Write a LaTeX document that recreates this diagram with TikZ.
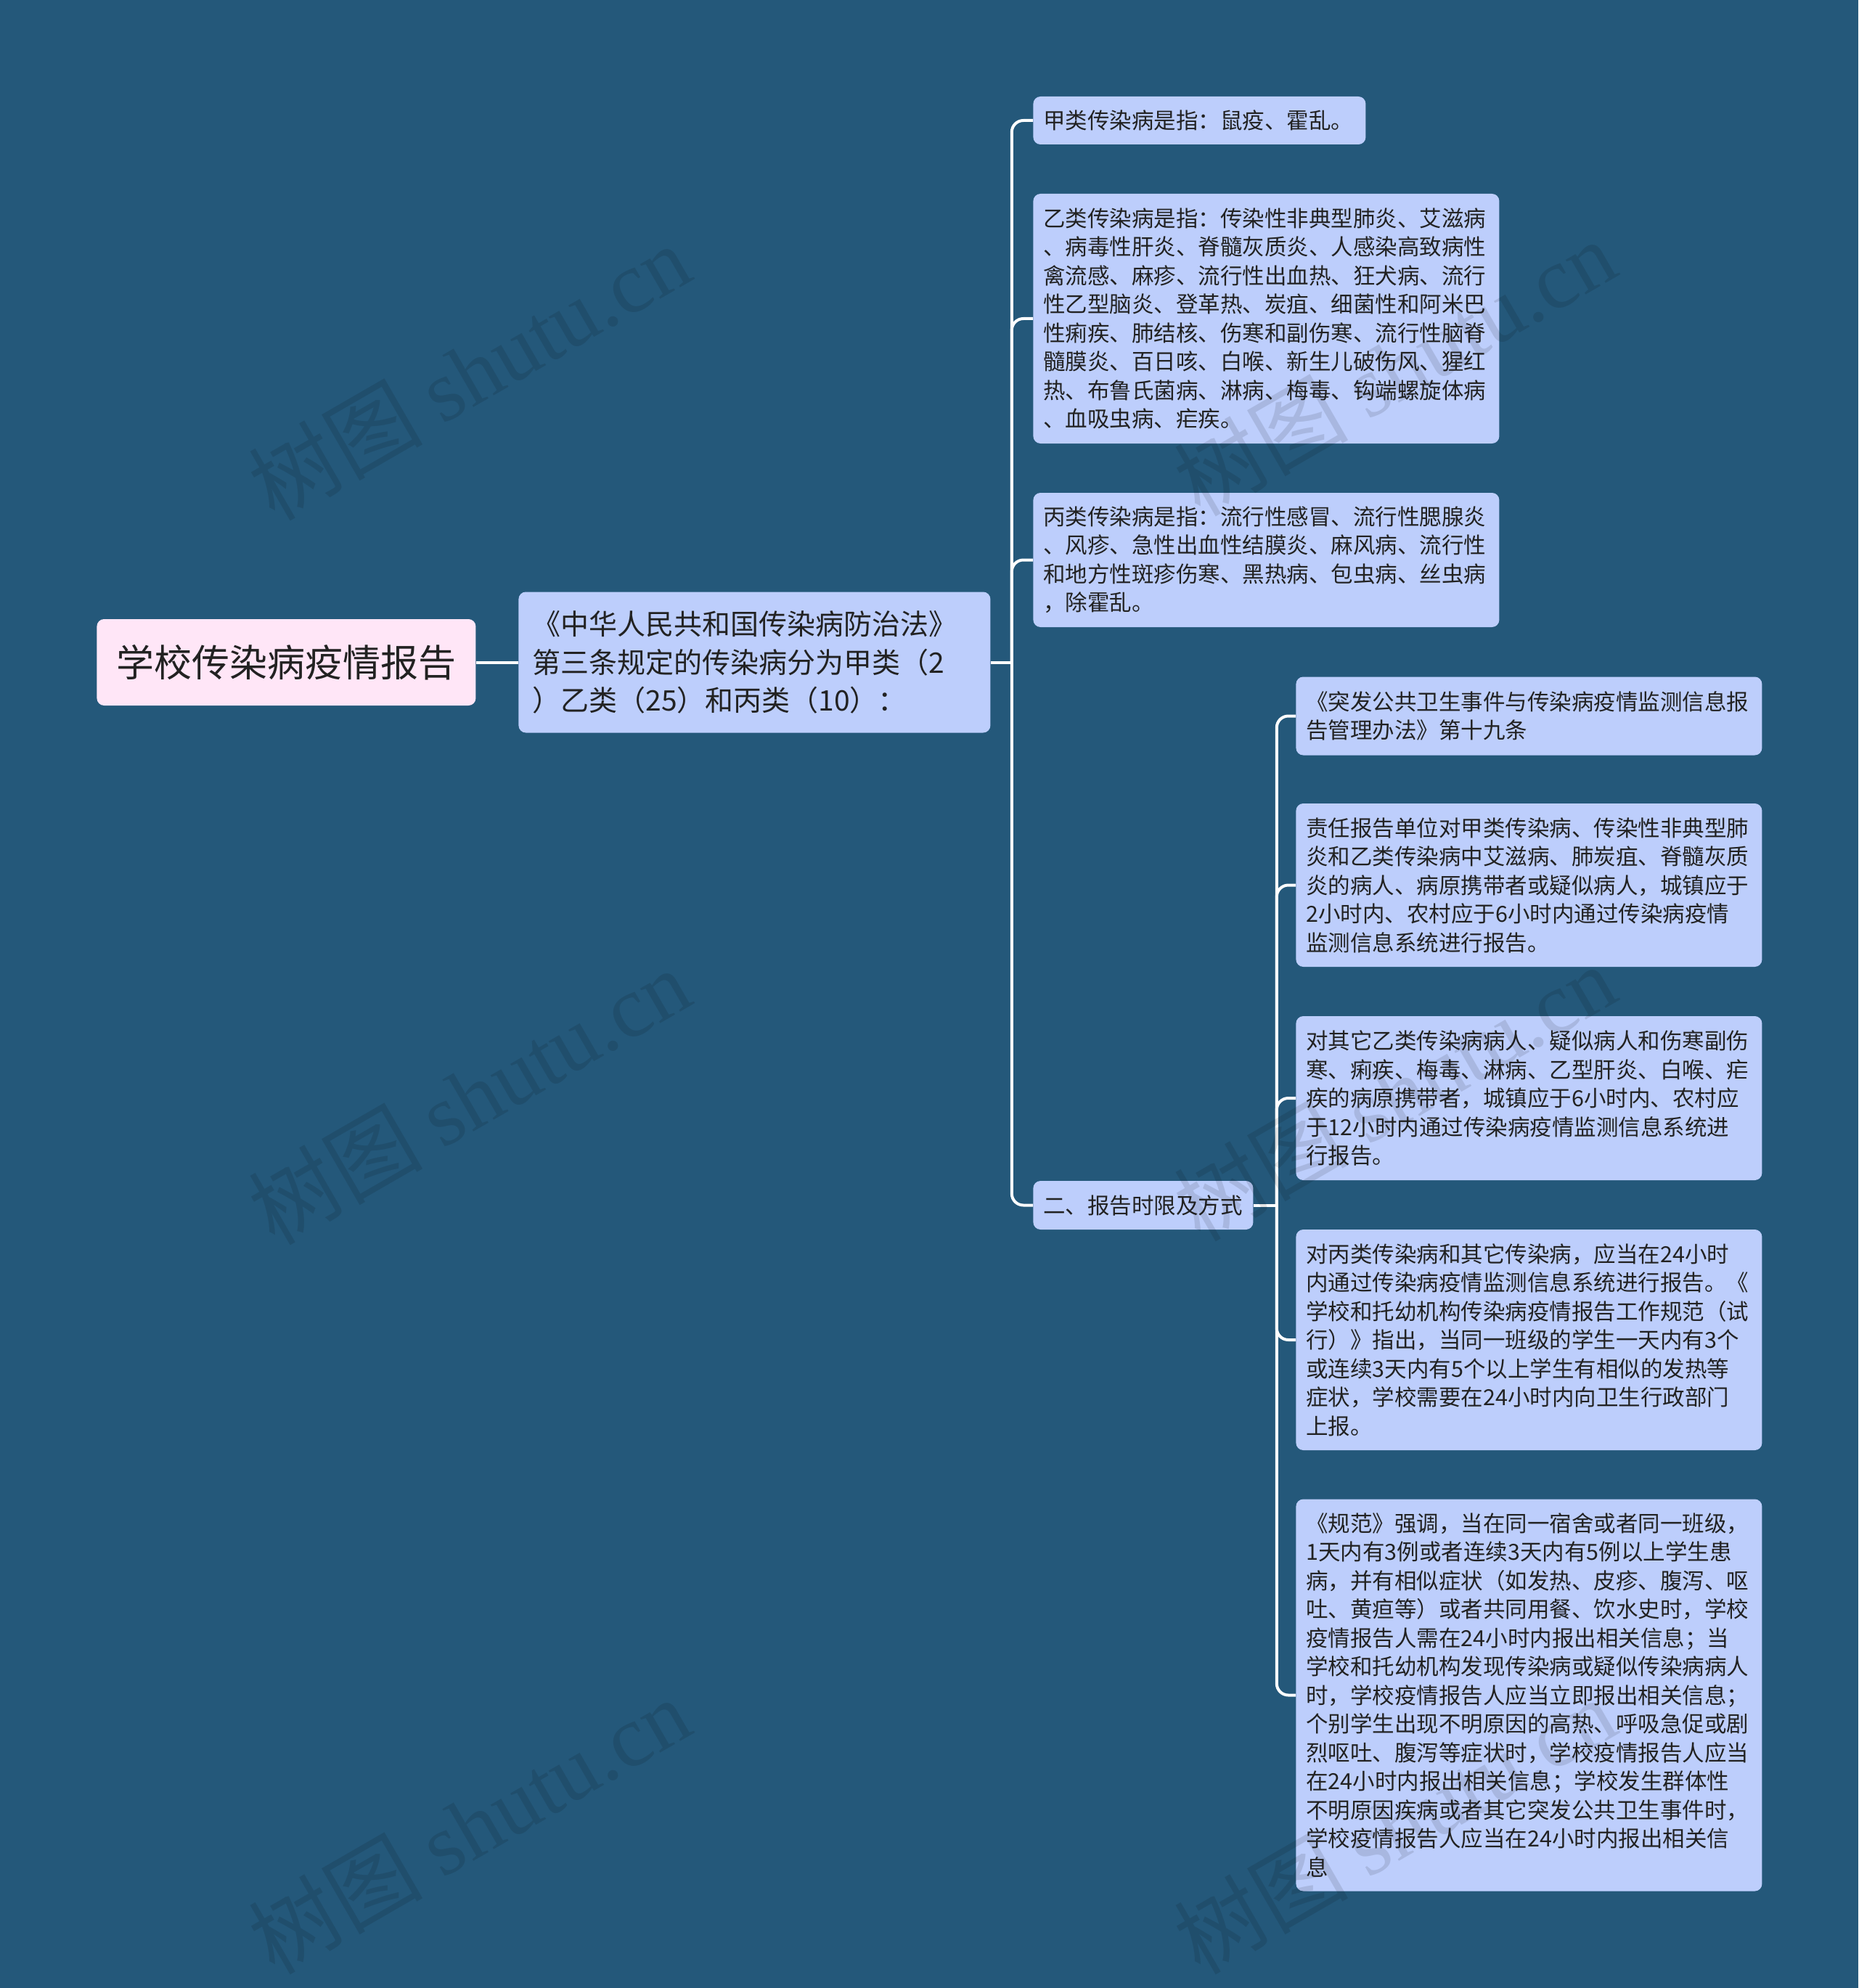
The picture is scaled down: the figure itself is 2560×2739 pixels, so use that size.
\documentclass[tikz,border=0pt]{standalone}
\usepackage{fontspec}
\setmainfont{Noto Sans CJK SC}
\newfontfamily\wmlatin{Liberation Serif}
\definecolor{bgc}{RGB}{36,88,122}
\definecolor{nodec}{RGB}{189,206,252}
\definecolor{rootc}{RGB}{255,230,247}
\definecolor{txtc}{RGB}{34,34,34}
\tikzset{
  basebox/.style={rounded corners=5pt, text=txtc, inner ysep=0pt, anchor=west},
  rootbox/.style={basebox, fill=rootc, align=center, inner xsep=0pt,
    font=\fontsize{26pt}{30pt}\selectfont},
  lonebox/.style={basebox, fill=nodec, align=left, inner xsep=9.5pt,
    font=\fontsize{19.5pt}{26.2pt}\selectfont},
  leafbox/.style={basebox, fill=nodec, align=left, inner xsep=7pt,
    font=\fontsize{15.25pt}{19.75pt}\selectfont},
  conn/.style={draw=white, line width=2pt, rounded corners=8pt},
  wm/.style={rotate=30, text=black, text opacity=0.11,
    font=\fontsize{60pt}{60pt}\selectfont},
}
\begin{document}
\begin{tikzpicture}[x=0.5pt,y=-0.5pt]
\fill[bgc] (0,0) rectangle (2560,2739);
\useasboundingbox (0,0) rectangle (2560,2739);

% root and first level
\node[rootbox, minimum width=261pt, minimum height=59.5pt] (root) at (133,912.5) {学校传染病疫情报告};
\node[lonebox, text width=306pt, minimum height=97pt] (law) at (714,912.5)
  {《中华人民共和国传染病防治法》\\第三条规定的传染病分为甲类（2\\）乙类（25）和丙类（10）：};

% second level
\node[leafbox, text width=215pt, minimum height=33pt] (jia) at (1423,166)
  {甲类传染病是指：鼠疫、霍乱。};
\node[leafbox, text width=307pt, minimum height=172pt] (yi) at (1423,439)
  {乙类传染病是指：传染性非典型肺炎、艾滋病\\、病毒性肝炎、脊髓灰质炎、人感染高致病性\\禽流感、麻疹、流行性出血热、狂犬病、流行\\性乙型脑炎、登革热、炭疽、细菌性和阿米巴\\性痢疾、肺结核、伤寒和副伤寒、流行性脑脊\\髓膜炎、百日咳、白喉、新生儿破伤风、猩红\\热、布鲁氏菌病、淋病、梅毒、钩端螺旋体病\\、血吸虫病、疟疾。};
\node[leafbox, text width=307pt, minimum height=92.5pt] (bing) at (1423,771.5)
  {丙类传染病是指：流行性感冒、流行性腮腺炎\\、风疹、急性出血性结膜炎、麻风病、流行性\\和地方性斑疹伤寒、黑热病、包虫病、丝虫病\\，除霍乱。};
\node[leafbox, text width=137.5pt, minimum height=33.5pt] (er) at (1423,1660.5)
  {二、报告时限及方式};

% third level
\node[leafbox, text width=307pt, minimum height=54pt] (tf) at (1785,986.5)
  {《突发公共卫生事件与传染病疫情监测信息报\\告管理办法》第十九条};
\node[leafbox, text width=307pt, minimum height=112.5pt] (zr) at (1785,1219.5)
  {责任报告单位对甲类传染病、传染性非典型肺\\炎和乙类传染病中艾滋病、肺炭疽、脊髓灰质\\炎的病人、病原携带者或疑似病人，城镇应于\\2小时内、农村应于6小时内通过传染病疫情\\监测信息系统进行报告。};
\node[leafbox, text width=307pt, minimum height=113pt] (qt) at (1785,1513)
  {对其它乙类传染病病人、疑似病人和伤寒副伤\\寒、痢疾、梅毒、淋病、乙型肝炎、白喉、疟\\疾的病原携带者，城镇应于6小时内、农村应\\于12小时内通过传染病疫情监测信息系统进\\行报告。};
\node[leafbox, text width=307pt, minimum height=152pt] (bl) at (1785,1846)
  {对丙类传染病和其它传染病，应当在24小时\\内通过传染病疫情监测信息系统进行报告。《\\学校和托幼机构传染病疫情报告工作规范（试\\行）》指出，当同一班级的学生一天内有3个\\或连续3天内有5个以上学生有相似的发热等\\症状，学校需要在24小时内向卫生行政部门\\上报。};
\node[leafbox, text width=307pt, minimum height=270pt] (gf) at (1785,2335.5)
  {《规范》强调，当在同一宿舍或者同一班级，\\1天内有3例或者连续3天内有5例以上学生患\\病，并有相似症状（如发热、皮疹、腹泻、呕\\吐、黄疸等）或者共同用餐、饮水史时，学校\\疫情报告人需在24小时内报出相关信息；当\\学校和托幼机构发现传染病或疑似传染病病人\\时，学校疫情报告人应当立即报出相关信息；\\个别学生出现不明原因的高热、呼吸急促或剧\\烈呕吐、腹泻等症状时，学校疫情报告人应当\\在24小时内报出相关信息；学校发生群体性\\不明原因疾病或者其它突发公共卫生事件时，\\学校疫情报告人应当在24小时内报出相关信\\息};

% connectors
\draw[conn] (root.east) -- (law.west);
\coordinate (j1) at ([xshift=14.5pt]law.east);
\coordinate (j2) at ([xshift=16pt]er.east);
\draw[conn] (law.east) -- (j1);
\draw[conn] (j1) |- (jia.west);
\draw[conn] (j1) |- (yi.west);
\draw[conn] (j1) |- (bing.west);
\draw[conn] (j1) |- (er.west);
\draw[conn] (er.east) -- (j2);
\draw[conn] (j2) |- (tf.west);
\draw[conn] (j2) |- (zr.west);
\draw[conn] (j2) |- (qt.west);
\draw[conn] (j2) |- (bl.west);
\draw[conn] (j2) |- (gf.west);

% watermarks
\node[wm] (w1) at (646,512) {树图 {\wmlatin shutu.cn}};
\node[wm] (w2) at (646,1510) {树图 {\wmlatin shutu.cn}};
\node[wm] (w3) at (646,2515) {树图 {\wmlatin shutu.cn}};
\node[wm] (w4) at (1921,506) {树图 {\wmlatin shutu.cn}};
\node[wm] (w5) at (1921,1505) {树图 {\wmlatin shutu.cn}};
\node[wm] (w6) at (1921,2515) {树图 {\wmlatin shutu.cn}};
\end{tikzpicture}
\end{document}
